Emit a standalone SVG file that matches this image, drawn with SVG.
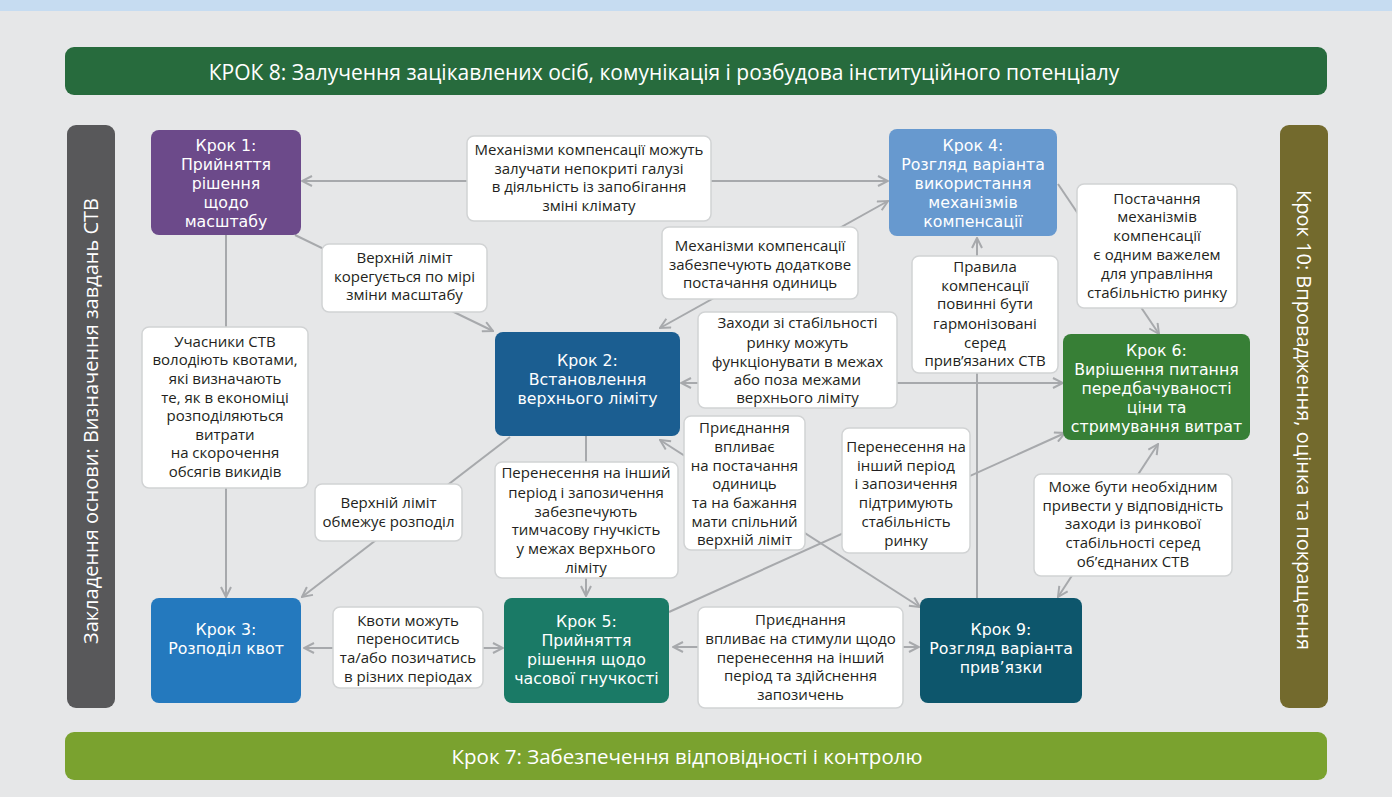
<svg xmlns="http://www.w3.org/2000/svg" width="1392" height="797" viewBox="0 0 1392 797">
  <style>
    .bg { fill: #e6e7e8; }
    .band-t { font-family: "Open Sans", "Noto Sans", sans-serif; fill: #ffffff; text-anchor: middle; }
    .node rect { stroke: none; }
    .node text { font-family: "DejaVu Sans", "Open Sans", sans-serif; font-size: 15.8px; fill: #ffffff; text-anchor: middle; }
    .lbl rect { fill: #ffffff; stroke: #d1d3d4; stroke-width: 1.5; }
    .lbl text { font-family: "Open Sans", "Noto Sans", sans-serif; font-size: 15px; fill: #231f20; text-anchor: middle; }
    .conn { stroke: #a7a9ac; stroke-width: 2; fill: none; }
  </style>
  <defs>
    <marker id="arr" viewBox="0 0 12 12" refX="11" refY="6" markerWidth="12" markerHeight="12" markerUnits="userSpaceOnUse" orient="auto-start-reverse">
      <path d="M1,1 L11,6 L1,11" fill="none" stroke="#a7a9ac" stroke-width="2"/>
    </marker>
  </defs>

  <!-- background -->
  <rect class="bg" x="0" y="0" width="1392" height="797"/>
  <rect x="0" y="0" width="1392" height="11" fill="#c6dcf1"/>

  <!-- framing bands -->
  <g id="step8">
    <rect x="65" y="47" width="1262" height="48" rx="9" fill="#276b3d"/>
    <text class="band-t" x="664" y="80" font-size="21">КРОК 8: Залучення зацікавлених осіб, комунікація і розбудова інституційного потенціалу</text>
  </g>
  <g id="foundation">
    <rect x="67" y="125" width="48" height="583" rx="9" fill="#58585a"/>
    <text class="band-t" transform="translate(98,421) rotate(-90)" x="0" y="0" font-size="20">Закладення основи: Визначення завдань СТВ</text>
  </g>
  <g id="step10">
    <rect x="1280" y="125" width="48" height="583" rx="9" fill="#736a2d"/>
    <text class="band-t" transform="translate(1297,420) rotate(90)" x="0" y="0" font-size="20">Крок 10: Впровадження, оцінка та покращення</text>
  </g>
  <g id="step7">
    <rect x="65" y="732" width="1262" height="48" rx="9" fill="#7aa22f"/>
    <text class="band-t" x="687" y="764" font-size="20.5">Крок 7: Забезпечення відповідності і контролю</text>
  </g>

  <!-- connectors -->
  <g id="connectors">
    <line class="conn" x1="302" y1="181" x2="888" y2="181" marker-start="url(#arr)" marker-end="url(#arr)"/>
    <line class="conn" x1="226" y1="235" x2="226" y2="597" marker-end="url(#arr)"/>
    <line class="conn" x1="295" y1="235" x2="493" y2="331" marker-end="url(#arr)"/>
    <line class="conn" x1="660" y1="328" x2="888" y2="201" marker-start="url(#arr)" marker-end="url(#arr)"/>
    <line class="conn" x1="681" y1="383" x2="1063" y2="383" marker-start="url(#arr)" marker-end="url(#arr)"/>
    <line class="conn" x1="977" y1="598" x2="977" y2="238" marker-end="url(#arr)"/>
    <line class="conn" x1="1058" y1="184" x2="1159" y2="334" marker-end="url(#arr)"/>
    <line class="conn" x1="510" y1="437" x2="302" y2="597" marker-end="url(#arr)"/>
    <line class="conn" x1="304" y1="648" x2="503" y2="648" marker-start="url(#arr)" marker-end="url(#arr)"/>
    <line class="conn" x1="586" y1="436" x2="586" y2="596" marker-end="url(#arr)"/>
    <line class="conn" x1="660" y1="440" x2="920" y2="607" marker-start="url(#arr)" marker-end="url(#arr)"/>
    <line class="conn" x1="669" y1="612" x2="1065" y2="433" marker-end="url(#arr)"/>
    <line class="conn" x1="673" y1="647" x2="919" y2="647" marker-start="url(#arr)" marker-end="url(#arr)"/>
    <line class="conn" x1="1058" y1="597" x2="1158" y2="444" marker-start="url(#arr)" marker-end="url(#arr)"/>
  </g>

  <!-- edge labels -->
  <g id="lbl-scale-cap" class="lbl">
    <rect x="322" y="244" width="165" height="68" rx="7"/>
    <text><tspan x="404.5" y="263">Верхній ліміт</tspan><tspan x="404.5" y="282">корегується по мірі</tspan><tspan x="404.5" y="300">зміни масштабу</tspan></text>
  </g>
  <g id="lbl-participants" class="lbl">
    <rect x="142" y="327" width="166" height="161" rx="7"/>
    <text><tspan x="225" y="347">Учасники СТВ</tspan><tspan x="225" y="365">володіють квотами,</tspan><tspan x="225" y="384">які визначають</tspan><tspan x="225" y="403">те, як в економіці</tspan><tspan x="225" y="421">розподіляються</tspan><tspan x="225" y="440">витрати</tspan><tspan x="225" y="458">на скорочення</tspan><tspan x="225" y="477">обсягів викидів</tspan></text>
  </g>
  <g id="lbl-offset-sectors" class="lbl">
    <rect x="467" y="136" width="244" height="85" rx="7"/>
    <text><tspan x="589" y="155">Механізми компенсації можуть</tspan><tspan x="589" y="174">залучати непокриті галузі</tspan><tspan x="589" y="192">в діяльність із запобігання</tspan><tspan x="589" y="211">зміні клімату</tspan></text>
  </g>
  <g id="lbl-offset-supply" class="lbl">
    <rect x="662" y="227" width="196" height="72" rx="7"/>
    <text><tspan x="760" y="251">Механізми компенсації</tspan><tspan x="760" y="270">забезпечують додаткове</tspan><tspan x="760" y="288">постачання одиниць</tspan></text>
  </g>
  <g id="lbl-stability" class="lbl">
    <rect x="698" y="312" width="199" height="96" rx="7"/>
    <text><tspan x="797.5" y="328">Заходи зі стабільності</tspan><tspan x="797.5" y="348">ринку можуть</tspan><tspan x="797.5" y="367">функціонувати в межах</tspan><tspan x="797.5" y="385">або поза межами</tspan><tspan x="797.5" y="403">верхнього ліміту</tspan></text>
  </g>
  <g id="lbl-offset-rules" class="lbl">
    <rect x="912" y="256" width="146" height="117" rx="7"/>
    <text><tspan x="985" y="272">Правила</tspan><tspan x="985" y="291">компенсації</tspan><tspan x="985" y="309">повинні бути</tspan><tspan x="985" y="329">гармонізовані</tspan><tspan x="985" y="348">серед</tspan><tspan x="985" y="366">прив’язаних СТВ</tspan></text>
  </g>
  <g id="lbl-offset-lever" class="lbl">
    <rect x="1077" y="184" width="160" height="124" rx="7"/>
    <text><tspan x="1157" y="204">Постачання</tspan><tspan x="1157" y="222">механізмів</tspan><tspan x="1157" y="241">компенсації</tspan><tspan x="1157" y="260">є одним важелем</tspan><tspan x="1157" y="279">для управління</tspan><tspan x="1157" y="298">стабільністю ринку</tspan></text>
  </g>
  <g id="lbl-cap-limits" class="lbl">
    <rect x="315" y="484" width="147" height="57" rx="7"/>
    <text><tspan x="388.5" y="508">Верхній ліміт</tspan><tspan x="388.5" y="527">обмежує розподіл</tspan></text>
  </g>
  <g id="lbl-banking" class="lbl">
    <rect x="333" y="607" width="150" height="81" rx="7"/>
    <text><tspan x="408" y="626">Квоти можуть</tspan><tspan x="408" y="644">переноситись</tspan><tspan x="408" y="663">та/або позичатись</tspan><tspan x="408" y="682">в різних періодах</tspan></text>
  </g>
  <g id="lbl-flex" class="lbl">
    <rect x="495" y="462" width="183" height="116" rx="7"/>
    <text><tspan x="586" y="478">Перенесення на інший</tspan><tspan x="586" y="498">період і запозичення</tspan><tspan x="586" y="517">забезпечують</tspan><tspan x="586" y="535">тимчасову гнучкість</tspan><tspan x="586" y="554">у межах верхнього</tspan><tspan x="586" y="573">ліміту</tspan></text>
  </g>
  <g id="lbl-linking-supply" class="lbl">
    <rect x="684" y="416" width="121" height="134" rx="7"/>
    <text><tspan x="744.5" y="433">Приєднання</tspan><tspan x="744.5" y="452">впливає</tspan><tspan x="744.5" y="471">на постачання</tspan><tspan x="744.5" y="489">одиниць</tspan><tspan x="744.5" y="508">та на бажання</tspan><tspan x="744.5" y="527">мати спільний</tspan><tspan x="744.5" y="545">верхній ліміт</tspan></text>
  </g>
  <g id="lbl-banking-stability" class="lbl">
    <rect x="842" y="428" width="128" height="125" rx="7"/>
    <text><tspan x="906" y="452">Перенесення на</tspan><tspan x="906" y="471">інший період</tspan><tspan x="906" y="489">і запозичення</tspan><tspan x="906" y="508">підтримують</tspan><tspan x="906" y="527">стабільність</tspan><tspan x="906" y="546">ринку</tspan></text>
  </g>
  <g id="lbl-linking-incentives" class="lbl">
    <rect x="698" y="607" width="205" height="101" rx="7"/>
    <text><tspan x="800.5" y="625">Приєднання</tspan><tspan x="800.5" y="644">впливає на стимули щодо</tspan><tspan x="800.5" y="663">перенесення на інший</tspan><tspan x="800.5" y="681">період та здійснення</tspan><tspan x="800.5" y="700">запозичень</tspan></text>
  </g>
  <g id="lbl-align-stability" class="lbl">
    <rect x="1034" y="474" width="198" height="102" rx="7"/>
    <text><tspan x="1133" y="492">Може бути необхідним</tspan><tspan x="1133" y="511">привести у відповідність</tspan><tspan x="1133" y="529">заходи із ринкової</tspan><tspan x="1133" y="548">стабільності серед</tspan><tspan x="1133" y="567">об’єднаних СТВ</tspan></text>
  </g>

  <!-- step nodes -->
  <g id="step1" class="node">
    <rect x="151" y="130" width="150" height="105" rx="8" fill="#6c4a8a"/>
    <text><tspan x="226" y="151">Крок 1:</tspan><tspan x="226" y="170">Прийняття</tspan><tspan x="226" y="189">рішення</tspan><tspan x="226" y="208">щодо</tspan><tspan x="226" y="227">масштабу</tspan></text>
  </g>
  <g id="step2" class="node">
    <rect x="495" y="332" width="185" height="104" rx="8" fill="#1b5e91"/>
    <text><tspan x="587.5" y="366">Крок 2:</tspan><tspan x="587.5" y="385">Встановлення</tspan><tspan x="587.5" y="404">верхнього ліміту</tspan></text>
  </g>
  <g id="step3" class="node">
    <rect x="151" y="598" width="150" height="105" rx="8" fill="#2479be"/>
    <text><tspan x="226" y="635">Крок 3:</tspan><tspan x="226" y="654">Розподіл квот</tspan></text>
  </g>
  <g id="step4" class="node">
    <rect x="889" y="129" width="168" height="107" rx="8" fill="#6799cf"/>
    <text><tspan x="973" y="151">Крок 4:</tspan><tspan x="973" y="170">Розгляд варіанта</tspan><tspan x="973" y="189">використання</tspan><tspan x="973" y="208">механізмів</tspan><tspan x="973" y="227">компенсації</tspan></text>
  </g>
  <g id="step5" class="node">
    <rect x="504" y="598" width="165" height="105" rx="8" fill="#1a7a66"/>
    <text><tspan x="586.5" y="627">Крок 5:</tspan><tspan x="586.5" y="646">Прийняття</tspan><tspan x="586.5" y="665">рішення щодо</tspan><tspan x="586.5" y="684">часової гнучкості</tspan></text>
  </g>
  <g id="step6" class="node">
    <rect x="1063" y="334" width="187" height="106" rx="8" fill="#377f36"/>
    <text><tspan x="1156.5" y="356">Крок 6:</tspan><tspan x="1156.5" y="375">Вирішення питання</tspan><tspan x="1156.5" y="394">передбачуваності</tspan><tspan x="1156.5" y="413">ціни та</tspan><tspan x="1156.5" y="432">стримування витрат</tspan></text>
  </g>
  <g id="step9" class="node">
    <rect x="920" y="598" width="162" height="105" rx="8" fill="#0d566c"/>
    <text><tspan x="1001" y="635">Крок 9:</tspan><tspan x="1001" y="654">Розгляд варіанта</tspan><tspan x="1001" y="673">прив’язки</tspan></text>
  </g>
</svg>
